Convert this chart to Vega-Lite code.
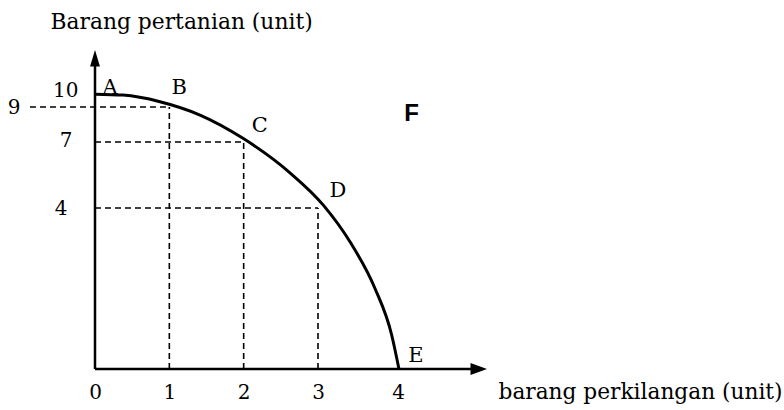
{
  "$schema": "https://vega.github.io/schema/vega-lite/v6.json",
  "width": 392,
  "height": 319,
  "autosize": "none",
  "padding": {"left": 95, "top": 50, "right": 297, "bottom": 41},
  "background": "white",
  "config": {"view": {"stroke": null}, "axis": {"grid": false}},
  "encoding": {
    "x": {
      "field": "x", "type": "quantitative",
      "scale": {"domain": [0, 3, 4, 5.17], "range": [0, 223, 303, 392], "zero": false, "nice": false},
      "axis": {
        "values": [0, 1, 2, 3, 4], "domain": false, "ticks": false, "labelPadding": 13,
        "labelFont": "DejaVu Serif", "labelFontSize": 20, "labelColor": "black", "labelOverlap": false, "labelFlush": false,
        "title": "barang perkilangan (unit)", "titleX": 403, "titleY": 29, "titleAlign": "left", "titleBaseline": "alphabetic",
        "titleFont": "DejaVu Serif", "titleFontSize": 21.7, "titleFontWeight": "normal", "titleColor": "black"
      }
    },
    "y": {
      "field": "y", "type": "quantitative",
      "scale": {"domain": [0, 4, 7, 9, 10, 11], "range": [319, 158, 92, 57, 47, 0], "zero": false, "nice": false},
      "axis": {
        "values": [4, 7, 9, 10], "domain": false, "ticks": false,
        "labelPadding": {"condition": [{"test": "datum.value == 10", "value": 17}, {"test": "datum.value == 9", "value": 75}, {"test": "datum.value == 7", "value": 23}], "value": 28},
        "labelOffset": {"condition": [{"test": "datum.value == 10", "value": -7}, {"test": "datum.value == 7", "value": -2}], "value": 0},
        "labelFont": "DejaVu Serif", "labelFontSize": 20, "labelColor": "black", "labelOverlap": false, "labelFlush": false,
        "title": "Barang pertanian (unit)", "titleAngle": 0, "titleX": -45, "titleY": -22, "titleAlign": "left", "titleBaseline": "alphabetic",
        "titleFont": "DejaVu Serif", "titleFontSize": 21.8, "titleFontWeight": "normal", "titleColor": "black"
      }
    }
  },
  "layer": [
    {
      "data": {"values": [
        {"x": -0.875, "y": 9, "x2": 1, "y2": 9},
        {"x": 0, "y": 7, "x2": 2, "y2": 7},
        {"x": 0, "y": 4, "x2": 3, "y2": 4},
        {"x": 1, "y": 0, "x2": 1, "y2": 9},
        {"x": 2, "y": 0, "x2": 2, "y2": 7},
        {"x": 3, "y": 0, "x2": 3, "y2": 4}
      ]},
      "mark": {"type": "rule", "color": "black", "strokeWidth": 1.6, "strokeDash": [6, 4]},
      "encoding": {"x2": {"field": "x2"}, "y2": {"field": "y2"}}
    },
    {
      "data": {"values": [
        {"x": 0, "y": 0, "x2": 5.05, "y2": 0},
        {"x": 0, "y": 0, "x2": 0, "y2": 10.8}
      ]},
      "mark": {"type": "rule", "color": "black", "strokeWidth": 2.5},
      "encoding": {"x2": {"field": "x2"}, "y2": {"field": "y2"}}
    },
    {
      "data": {"values": [
        {"x": 0, "y": 11, "dir": "up"},
        {"x": 5.17, "y": 0, "dir": "right"}
      ]},
      "mark": {"type": "point", "filled": true, "color": "black", "opacity": 1, "size": 900},
      "encoding": {
        "shape": {"field": "dir", "type": "nominal", "legend": null,
          "scale": {"domain": ["up", "right"], "range": ["M0,0L-0.33,1.1L0.33,1.1Z", "M0,0L-1.1,-0.4L-1.1,0.4Z"]}}
      }
    },
    {
      "data": {"values": [
        {"x": 0, "y": 10.06},
        {"x": 0.377, "y": 10.04},
        {"x": 0.874, "y": 9.53},
        {"x": 1.413, "y": 8.54},
        {"x": 1.991, "y": 7.21},
        {"x": 2.623, "y": 5.6},
        {"x": 3.069, "y": 4.12},
        {"x": 3.4, "y": 3.16},
        {"x": 3.7125, "y": 2.0},
        {"x": 3.921, "y": 0.845},
        {"x": 4.0125, "y": 0}
      ]},
      "mark": {"type": "line", "color": "black", "strokeWidth": 3, "interpolate": "monotone"}
    },
    {
      "data": {"values": [
        {"x": 0, "y": 10, "label": "A"},
        {"x": 1, "y": 9, "label": "B"},
        {"x": 2, "y": 7, "label": "C"},
        {"x": 3, "y": 4, "label": "D"},
        {"x": 4, "y": 0, "label": "E"}
      ]},
      "mark": {"type": "text", "font": "DejaVu Serif", "fontSize": 21, "color": "black", "align": "center", "baseline": "middle",
        "dx": {"expr": "datum.label=='A' ? 15 : datum.label=='B' ? 10 : datum.label=='C' ? 16 : datum.label=='D' ? 20 : 18"},
        "dy": {"expr": "datum.label=='A' ? -9 : datum.label=='B' ? -19 : datum.label=='C' ? -16 : datum.label=='D' ? -17 : -13"}},
      "encoding": {"text": {"field": "label"}}
    },
    {
      "data": {"values": [{"x": 4.18, "y": 8.6, "label": "F"}]},
      "mark": {"type": "text", "font": "Liberation Sans", "fontWeight": "bold", "fontSize": 24, "color": "black", "align": "center", "baseline": "middle"},
      "encoding": {"text": {"field": "label"}}
    }
  ]
}
